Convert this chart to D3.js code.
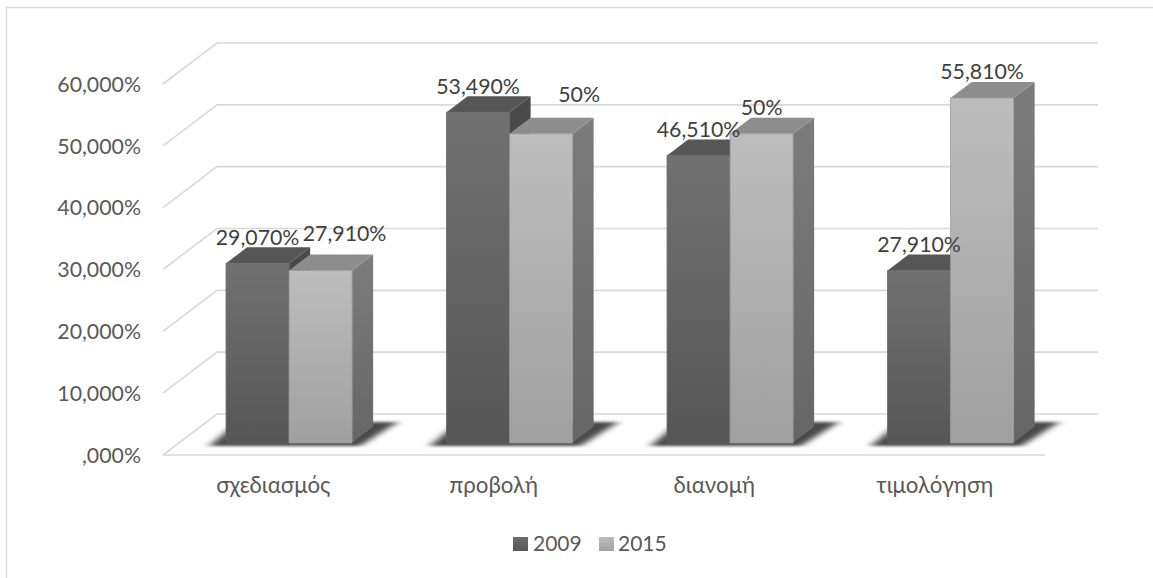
<!DOCTYPE html>
<html>
<head>
<meta charset="utf-8">
<script src="https://cdn.jsdelivr.net/npm/d3@7"></script>
<style>
  html, body { margin: 0; padding: 0; background: #fff; }
  svg { display: block; }
  text { font-family: Lato, "Noto Sans", sans-serif; }
</style>
</head>
<body>
<svg id="chart" width="1153" height="578"></svg>
<script>
const categories = ["σχεδιασμός", "προβολή", "διανομή", "τιμολόγηση"];
const seriesNames = ["2009", "2015"];
const values2009 = [29.07, 53.49, 46.51, 27.91];
const values2015 = [27.91, 50, 50, 55.81];
const labels2009 = ["29,070%", "53,490%", "46,510%", "27,910%"];
const labels2015 = ["27,910%", "50%", "50%", "55,810%"];
const tickValues = [0, 10, 20, 30, 40, 50, 60];
const tickLabels = [",000%", "10,000%", "20,000%", "30,000%", "40,000%", "50,000%", "60,000%"];

// Hand-placed data label nudges, per series and category
const labelNudge2009 = [[0, -18.5], [0, -18.5], [0, -18.5], [0, -18.5]];
const labelNudge2015 = [[24, -29], [38, -32], [0, -19], [0, -19]];

const seriesData = [
  { name: seriesNames[0], values: values2009, labels: labels2009, nudge: labelNudge2009,
    front: "url(#frontDark)", side: "url(#sideDark)", top: "#565656", edge: "#5f5f5f" },
  { name: seriesNames[1], values: values2015, labels: labels2015, nudge: labelNudge2015,
    front: "url(#frontLight)", side: "url(#sideLight)", top: "#8d8d8d", edge: "#9a9a9a" }
];

const numberSize = 21.3, categorySize = 22.3;

const svg = d3.select("#chart");
const defs = svg.append("defs");

function vGradient(id, top, bottom) {
  const g = defs.append("linearGradient").attr("id", id)
    .attr("x1", 0).attr("y1", 0).attr("x2", 0).attr("y2", 1);
  g.append("stop").attr("offset", 0).attr("stop-color", top);
  g.append("stop").attr("offset", 1).attr("stop-color", bottom);
}
vGradient("frontDark", "#717171", "#565656");
vGradient("frontLight", "#bdbdbd", "#a0a0a0");
vGradient("sideDark", "#4a4a4a", "#444444");
vGradient("sideLight", "#7c7c7c", "#666666");
vGradient("legendDark", "#6e6e6e", "#575757");
vGradient("legendLight", "#bcbcbc", "#a2a2a2");
defs.append("filter").attr("id", "floorBlur")
  .attr("x", "-20%").attr("y", "-40%").attr("width", "140%").attr("height", "180%")
  .append("feGaussianBlur").attr("stdDeviation", "5 1.4");

// Oblique projection: the front plane runs along x/y, depth slides up and to the right
const depthDX = 54, depthDY = -41;
const x0 = d3.scaleBand().domain(categories).range([163, 1045]);
const x1 = d3.scaleBand().domain(seriesNames).range([0, x0.bandwidth()]).paddingOuter(0.75);
const y = d3.scaleLinear().domain([0, 60]).range([455, 84]);
const project = (px, v, depth) => [px + depthDX * depth, y(v) + depthDY * depth];
const barNear = 0.293, barFar = 0.683;

// Chart frame
const frame = "#d9d9d9";
svg.append("path").attr("d", "M6.5,578V7.5H1153").attr("fill", "none")
  .attr("stroke", frame).attr("stroke-width", 1.5);

// Walls and floor
const grid = svg.append("g").attr("stroke", frame).attr("stroke-width", 1.6).attr("fill", "none");
tickValues.forEach(t => {
  const a = project(163, t, 0), b = project(163, t, 1), c = project(1044, t, 1);
  grid.append("path").attr("d", d3.line()([a, b, c]));
});
grid.append("path").attr("d", d3.line()([project(163, 0, 0), project(1045, 0, 0)]));

// Value axis
const axis = d3.axisLeft(y).tickValues(tickValues).tickSize(0)
  .tickFormat((d, i) => tickLabels[i]);
const axisG = svg.append("g").attr("transform", "translate(144,0)").call(axis);
axisG.select(".domain").remove();
axisG.selectAll("text").attr("fill", "#595959").attr("font-size", numberSize).attr("dy", "0.34em");

// Category axis
const catAxis = d3.axisBottom(x0).tickSize(0);
const catG = svg.append("g").attr("transform", "translate(0,455)").call(catAxis);
catG.select(".domain").remove();
catG.selectAll("text").attr("fill", "#595959").attr("font-size", categorySize)
  .attr("y", 38).attr("dy", 0);

// Floor shadows beneath each group of bars
const shadows = svg.append("g").attr("filter", "url(#floorBlur)");
categories.forEach(c => {
  const left = x0(c) + x1(seriesNames[0]);
  const right = x0(c) + x1(seriesNames[1]) + x1.bandwidth();
  const [lx, ly] = project(left, 0, barNear);
  const [rx] = project(right, 0, barNear);
  shadows.append("path")
    .attr("d", d3.line()([[lx - 17, ly + 3], [rx + 8, ly + 3], [rx + 46, ly - 21], [lx + 12, ly - 21]]) + "Z")
    .attr("fill", "#484848");
});

// Bars: each is a front face, a side face and a top face
const toPath = pts => d3.line()(pts) + "Z";
const groups = svg.append("g").selectAll("g").data(categories).join("g");
groups.each(function (c, i) {
  const g = d3.select(this);
  seriesData.forEach(s => {
    const xa = x0(c) + x1(s.name), xb = xa + x1.bandwidth(), v = s.values[i];
    const fa = project(xa, v, barNear), fb = project(xb, v, barNear);
    const ba = project(xa, v, barFar), bb = project(xb, v, barFar);
    const f0a = project(xa, 0, barNear), f0b = project(xb, 0, barNear), b0b = project(xb, 0, barFar);
    g.append("path").attr("d", toPath([fb, bb, b0b, f0b])).attr("fill", s.side);
    g.append("path").attr("d", d3.line()([f0b, b0b])).attr("stroke", "#3c3c3c")
      .attr("stroke-width", 0.8).attr("stroke-dasharray", "2 2").attr("fill", "none");
    g.append("path").attr("d", toPath([fa, ba, bb, fb])).attr("fill", s.top);
    g.append("path").attr("d", toPath([fa, fb, f0b, f0a])).attr("fill", s.front)
      .attr("stroke", s.edge).attr("stroke-width", 0.8);
  });
});

// Data labels sit above all bars
const labelLayer = svg.append("g");
categories.forEach((c, i) => {
  seriesData.forEach(s => {
    const cx = x0(c) + x1(s.name) + x1.bandwidth() / 2;
    const [px, py] = project(cx, s.values[i], barNear);
    labelLayer.append("text")
      .attr("x", px + s.nudge[i][0]).attr("y", py + s.nudge[i][1])
      .attr("text-anchor", "middle").attr("font-size", numberSize).attr("fill", "#404040")
      .text(s.labels[i]);
  });
});

// Legend
const legendX = d3.scaleOrdinal().domain(seriesNames).range([513, 599]);
const legend = svg.append("g").selectAll("g").data(seriesNames).join("g")
  .attr("transform", d => `translate(${legendX(d)},537)`);
legend.append("rect").attr("width", 15).attr("height", 14)
  .attr("fill", (d, i) => i === 0 ? "url(#legendDark)" : "url(#legendLight)");
legend.append("text").attr("x", (d, i) => i === 0 ? 20 : 19).attr("y", 14).attr("font-size", numberSize - 0.3).attr("fill", "#595959")
  .text(d => d);
</script>
</body>
</html>
